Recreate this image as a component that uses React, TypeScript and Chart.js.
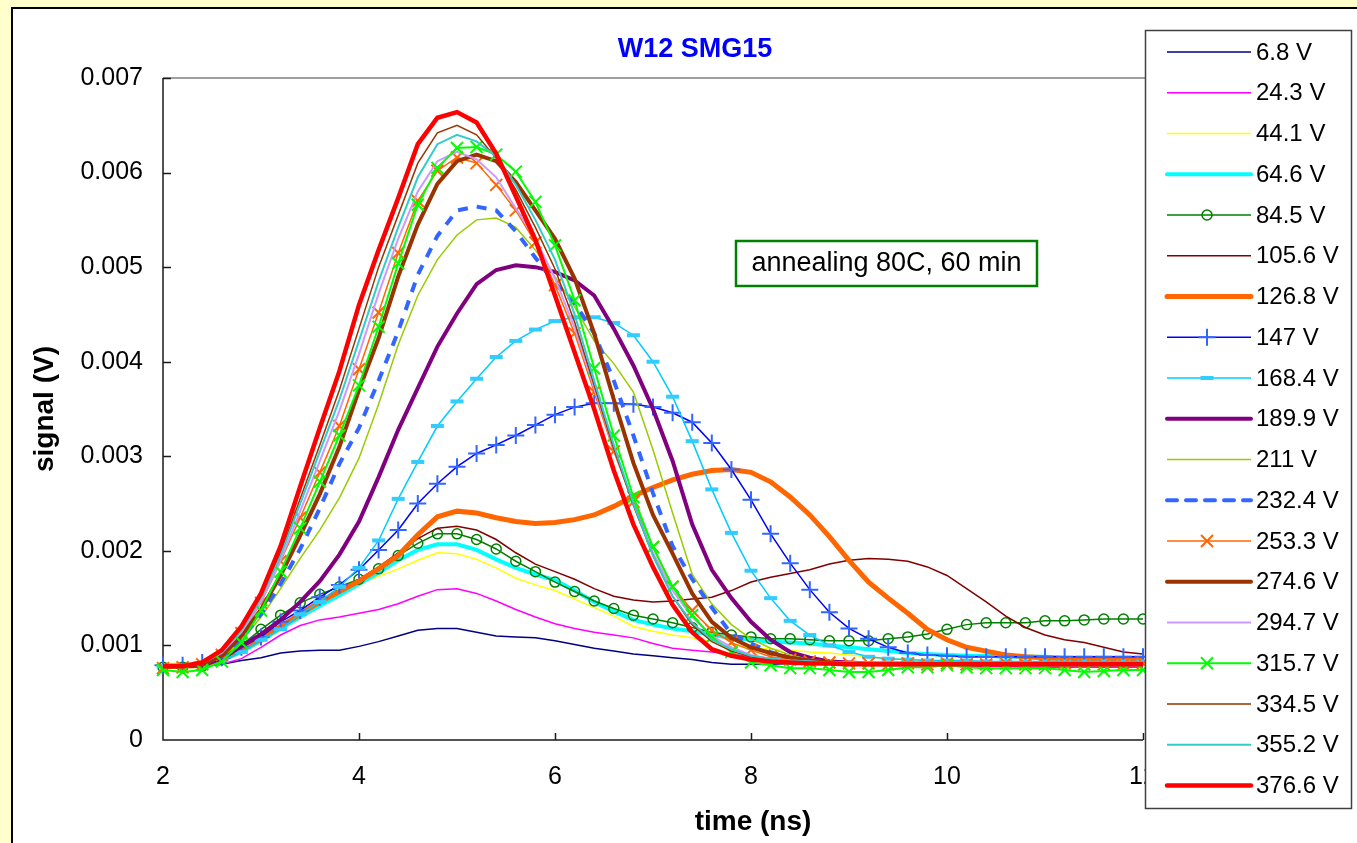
import React, { useEffect, useRef } from "react";
import { Chart, registerables } from "chart.js";

Chart.register(...registerables);

const W = 1357;
const H = 843;
const FONT = '"Liberation Sans", Arial, sans-serif';

// time axis (ns)
const times = [2.0, 2.2, 2.4, 2.6, 2.8, 3.0, 3.2, 3.4, 3.6, 3.8, 4.0, 4.2, 4.4, 4.6, 4.8, 5.0, 5.2, 5.4, 5.6, 5.8, 6.0, 6.2, 6.4, 6.6, 6.8, 7.0, 7.2, 7.4, 7.6, 7.8, 8.0, 8.2, 8.4, 8.6, 8.8, 9.0, 9.2, 9.4, 9.6, 9.8, 10.0, 10.2, 10.4, 10.6, 10.8, 11.0, 11.2, 11.4, 11.6, 11.8, 12.0];

const seriesNames = ["6.8 V", "24.3 V", "44.1 V", "64.6 V", "84.5 V", "105.6 V", "126.8 V", "147 V", "168.4 V", "189.9 V", "211 V", "232.4 V", "253.3 V", "274.6 V", "294.7 V", "315.7 V", "334.5 V", "355.2 V", "376.6 V"];

const yTicks = [0, 0.001, 0.002, 0.003, 0.004, 0.005, 0.006, 0.007];
const xTicks = [2, 4, 6, 8, 10, 12];

// signal values in mV (converted to V when plotted)
const v6_8 = [0.77,0.77,0.78,0.80,0.84,0.87,0.92,0.94,0.95,0.95, 0.99,1.04,1.10,1.16,1.18,1.18,1.14,1.10,1.09,1.08, 1.05,1.01,0.97,0.94,0.91,0.89,0.87,0.85,0.82,0.80, 0.80,0.80,0.81,0.80,0.80,0.80,0.81,0.80,0.80,0.80, 0.80,0.81,0.80,0.80,0.80,0.80,0.81,0.80,0.80,0.80, 0.80];
const v24_3 = [0.77,0.77,0.78,0.80,0.86,0.98,1.11,1.21,1.27,1.30, 1.34,1.38,1.44,1.52,1.59,1.60,1.55,1.47,1.38,1.30, 1.23,1.18,1.14,1.11,1.08,1.02,0.97,0.95,0.93,0.91, 0.88,0.85,0.83,0.82,0.81,0.80,0.80,0.79,0.79,0.79, 0.78,0.78,0.78,0.78,0.77,0.77,0.77,0.77,0.77,0.77, 0.77];
const v44_1 = [0.81,0.81,0.82,0.84,0.92,1.03,1.16,1.30,1.42,1.55, 1.66,1.73,1.81,1.90,1.98,1.97,1.91,1.82,1.71,1.64, 1.58,1.49,1.40,1.31,1.20,1.15,1.11,1.08,1.04,1.01, 0.98,0.96,0.95,0.93,0.92,0.90,0.88,0.86,0.85,0.84, 0.83,0.83,0.82,0.82,0.82,0.82,0.82,0.82,0.82,0.82, 0.82];
const v64_6 = [0.79,0.79,0.80,0.84,0.93,1.05,1.18,1.30,1.42,1.53, 1.65,1.77,1.90,2.01,2.07,2.07,2.01,1.91,1.82,1.75, 1.69,1.58,1.46,1.36,1.27,1.22,1.18,1.15,1.11,1.08, 1.06,1.04,1.03,1.02,1.00,0.98,0.96,0.94,0.92,0.91, 0.90,0.89,0.89,0.88,0.88,0.88,0.87,0.87,0.87,0.87, 0.87];
const v84_5 = [0.77,0.77,0.78,0.85,1.00,1.17,1.32,1.45,1.54,1.62, 1.70,1.81,1.95,2.08,2.18,2.18,2.12,2.02,1.89,1.78, 1.67,1.57,1.47,1.39,1.32,1.28,1.24,1.19,1.14,1.11, 1.09,1.07,1.07,1.06,1.05,1.05,1.05,1.07,1.09,1.12, 1.17,1.22,1.24,1.24,1.24,1.26,1.26,1.27,1.28,1.28, 1.28];
const v105_6 = [0.78,0.78,0.79,0.84,0.94,1.06,1.20,1.34,1.47,1.58, 1.70,1.83,1.98,2.13,2.24,2.26,2.22,2.12,1.98,1.86, 1.78,1.70,1.60,1.52,1.48,1.46,1.47,1.49,1.51,1.58, 1.67,1.72,1.76,1.80,1.86,1.90,1.92,1.91,1.89,1.83, 1.74,1.60,1.46,1.31,1.19,1.11,1.06,1.03,0.98,0.93, 0.91];
const v126_8 = [0.78,0.78,0.79,0.85,0.95,1.07,1.20,1.33,1.46,1.57, 1.68,1.81,1.95,2.17,2.36,2.42,2.40,2.35,2.31,2.29, 2.30,2.33,2.38,2.47,2.58,2.67,2.75,2.81,2.85,2.86, 2.83,2.73,2.57,2.38,2.15,1.90,1.67,1.50,1.34,1.17, 1.06,0.98,0.94,0.90,0.88,0.87,0.86,0.86,0.85,0.85, 0.85];
const v147 = [0.79,0.79,0.82,0.87,0.98,1.09,1.25,1.37,1.51,1.64, 1.80,2.01,2.22,2.50,2.71,2.89,3.03,3.12,3.22,3.33, 3.44,3.52,3.56,3.56,3.55,3.52,3.46,3.36,3.14,2.86, 2.54,2.18,1.87,1.59,1.35,1.18,1.07,0.98,0.92,0.90, 0.89,0.88,0.88,0.88,0.88,0.88,0.88,0.88,0.88,0.88, 0.88];
const v168_4 = [0.78,0.78,0.80,0.84,0.93,1.06,1.17,1.33,1.46,1.62, 1.82,2.11,2.55,2.94,3.32,3.58,3.82,4.05,4.22,4.34, 4.43,4.47,4.47,4.41,4.28,4.00,3.63,3.16,2.65,2.19, 1.79,1.50,1.26,1.11,1.00,0.93,0.88,0.86,0.85,0.84, 0.84,0.84,0.83,0.83,0.83,0.83,0.83,0.83,0.83,0.83, 0.83];
const v189_9 = [0.78,0.78,0.79,0.86,0.99,1.12,1.27,1.46,1.68,1.96, 2.31,2.78,3.28,3.72,4.16,4.51,4.82,4.97,5.02,5.00, 4.95,4.86,4.70,4.35,3.96,3.50,2.95,2.28,1.80,1.50, 1.25,1.06,0.93,0.87,0.83,0.82,0.81,0.80,0.80,0.80, 0.80,0.80,0.80,0.80,0.80,0.80,0.80,0.80,0.80,0.80, 0.80];
const v211 = [0.78,0.78,0.80,0.87,1.05,1.30,1.60,1.92,2.22,2.56, 2.98,3.55,4.18,4.70,5.08,5.34,5.50,5.52,5.42,5.18, 4.90,4.58,4.22,3.98,3.68,3.07,2.40,1.75,1.44,1.22, 1.07,0.97,0.90,0.85,0.83,0.82,0.81,0.81,0.81,0.81, 0.81,0.81,0.81,0.81,0.81,0.81,0.81,0.81,0.81,0.81, 0.81];
const v232_4 = [0.78,0.78,0.80,0.88,1.07,1.33,1.65,2.02,2.45,2.92, 3.30,3.80,4.32,4.92,5.33,5.60,5.64,5.60,5.38,5.10, 4.83,4.62,4.30,3.80,3.22,2.61,2.05,1.70,1.40,1.12, 1.02,0.93,0.87,0.84,0.82,0.81,0.81,0.81,0.81,0.81, 0.81,0.81,0.81,0.81,0.81,0.81,0.81,0.81,0.81,0.81, 0.81];
const v253_3 = [0.76,0.77,0.80,0.90,1.13,1.45,1.89,2.35,2.83,3.32, 3.92,4.52,5.15,5.70,6.02,6.16,6.10,5.87,5.60,5.26, 4.81,4.30,3.68,3.05,2.52,2.04,1.62,1.37,1.16,1.03, 0.95,0.88,0.85,0.83,0.82,0.81,0.81,0.80,0.81,0.80, 0.81,0.80,0.80,0.81,0.80,0.80,0.81,0.80,0.80,0.80, 0.81];
const v274_6 = [0.78,0.78,0.80,0.89,1.10,1.38,1.74,2.16,2.60,3.10, 3.70,4.25,4.90,5.45,5.88,6.12,6.19,6.12,5.90,5.60, 5.30,4.88,4.30,3.60,2.93,2.38,1.97,1.55,1.25,1.08, 0.98,0.92,0.87,0.84,0.82,0.81,0.80,0.80,0.80,0.80, 0.80,0.80,0.80,0.80,0.80,0.80,0.80,0.80,0.80,0.80, 0.80];
const v294_7 = [0.78,0.78,0.81,0.92,1.14,1.46,1.90,2.42,2.95,3.48, 4.08,4.72,5.30,5.80,6.12,6.22,6.14,5.95,5.62,5.30, 4.88,4.36,3.72,3.08,2.50,1.98,1.58,1.30,1.10,0.98, 0.90,0.86,0.84,0.83,0.82,0.82,0.82,0.82,0.82,0.82, 0.82,0.82,0.82,0.82,0.82,0.82,0.82,0.82,0.82,0.82, 0.82];
const v315_7 = [0.74,0.72,0.74,0.83,1.03,1.37,1.78,2.24,2.73,3.22, 3.75,4.37,5.04,5.66,6.05,6.26,6.27,6.19,6.01,5.69, 5.23,4.65,3.93,3.22,2.57,2.04,1.62,1.32,1.09,0.93, 0.82,0.79,0.76,0.76,0.74,0.72,0.72,0.74,0.77,0.77, 0.79,0.77,0.76,0.76,0.76,0.76,0.74,0.72,0.73,0.74, 0.74];
const v334_5 = [0.78,0.78,0.82,0.94,1.18,1.52,1.98,2.55,3.12,3.70, 4.35,5.00,5.55,6.10,6.42,6.50,6.40,6.15,5.82,5.42, 4.98,4.42,3.75,3.08,2.48,1.95,1.52,1.22,1.04,0.94, 0.88,0.85,0.83,0.82,0.82,0.82,0.82,0.82,0.82,0.82, 0.82,0.82,0.82,0.82,0.82,0.82,0.82,0.82,0.82,0.82, 0.82];
const v355_2 = [0.78,0.78,0.82,0.93,1.16,1.50,1.95,2.50,3.05,3.60, 4.22,4.85,5.42,5.95,6.30,6.40,6.33,6.17,5.87,5.50, 5.08,4.50,3.80,3.12,2.50,1.95,1.52,1.24,1.06,0.96, 0.89,0.86,0.84,0.83,0.82,0.82,0.82,0.82,0.82,0.82, 0.82,0.82,0.82,0.82,0.82,0.82,0.82,0.82,0.82,0.82, 0.82];
const v376_6 = [0.78,0.78,0.82,0.95,1.20,1.55,2.05,2.68,3.30,3.90, 4.60,5.18,5.73,6.30,6.58,6.64,6.53,6.20,5.75,5.29, 4.70,4.10,3.50,2.85,2.28,1.83,1.43,1.14,0.96,0.89, 0.85,0.83,0.82,0.81,0.81,0.80,0.80,0.80,0.80,0.80, 0.80,0.80,0.80,0.80,0.80,0.80,0.80,0.80,0.80,0.80, 0.80];

const seriesValues = [v6_8, v24_3, v44_1, v64_6, v84_5, v105_6, v126_8, v147, v168_4, v189_9, v211, v232_4, v253_3, v274_6, v294_7, v315_7, v334_5, v355_2, v376_6];

type Sty = { c: string; w: number; dash?: number[]; p?: string; pc?: string; pr?: number; pw?: number };
const styles: Sty[] = [
  { c: "#000080", w: 1.5 },
  { c: "#FF00FF", w: 1.5 },
  { c: "#FFFF00", w: 1.5 },
  { c: "#00FFFF", w: 4 },
  { c: "#008000", w: 1.5, p: "circle", pc: "#008000", pr: 5, pw: 1.5 },
  { c: "#800000", w: 1.5 },
  { c: "#FF6600", w: 5 },
  { c: "#0000FF", w: 1.5, p: "cross", pc: "#3366FF", pr: 8.5, pw: 2 },
  { c: "#00CCFF", w: 1.5, p: "line", pc: "#33CCFF", pr: 6.5, pw: 4 },
  { c: "#800080", w: 4 },
  { c: "#99CC00", w: 1.5 },
  { c: "#3366FF", w: 4, dash: [10, 9] },
  { c: "#FF6600", w: 1.5, p: "crossRot", pc: "#FF6600", pr: 8.5, pw: 2 },
  { c: "#993300", w: 4 },
  { c: "#CC99FF", w: 2 },
  { c: "#00FF00", w: 2, p: "crossRot", pc: "#00FF00", pr: 8.5, pw: 2 },
  { c: "#993300", w: 1.5 },
  { c: "#33CCCC", w: 2 },
  { c: "#FF0000", w: 4.5 },
];

function drawMarker(ctx: CanvasRenderingContext2D, s: Sty, x: number, y: number) {
  if (!s.p) return;
  const r = s.pr || 4;
  ctx.save();
  ctx.strokeStyle = s.pc || s.c;
  ctx.lineWidth = s.pw || 1.5;
  ctx.setLineDash([]);
  ctx.beginPath();
  if (s.p === "circle") {
    ctx.arc(x, y, r, 0, Math.PI * 2);
  } else if (s.p === "cross") {
    ctx.moveTo(x - r, y); ctx.lineTo(x + r, y);
    ctx.moveTo(x, y - r); ctx.lineTo(x, y + r);
  } else if (s.p === "crossRot") {
    const d = r * Math.SQRT1_2;
    ctx.moveTo(x - d, y - d); ctx.lineTo(x + d, y + d);
    ctx.moveTo(x + d, y - d); ctx.lineTo(x - d, y + d);
  } else if (s.p === "line") {
    ctx.moveTo(x - r, y); ctx.lineTo(x + r, y);
  }
  ctx.stroke();
  ctx.restore();
}

const decor = {
  id: "decor",
  beforeDraw(chart: any) {
    const ctx: CanvasRenderingContext2D = chart.ctx;
    ctx.save();
    ctx.fillStyle = "#FFFFCC";
    ctx.fillRect(0, 0, W, H);
    ctx.fillStyle = "#FFFFFF";
    ctx.fillRect(12, 8, W - 12, H - 8);
    ctx.fillStyle = "#000000";
    ctx.fillRect(11, 7, W - 11, 2);
    ctx.fillRect(11, 7, 2, H - 7);
    ctx.restore();
  },
  beforeDatasetsDraw(chart: any) {
    const ctx: CanvasRenderingContext2D = chart.ctx;
    const a = chart.chartArea;
    const xs = chart.scales.x;
    const ys = chart.scales.y;
    ctx.save();
    ctx.strokeStyle = "#808080";
    ctx.lineWidth = 1.5;
    ctx.beginPath();
    ctx.moveTo(a.left, a.top);
    ctx.lineTo(a.right + 2, a.top);
    ctx.stroke();
    ctx.strokeStyle = "#1a1a1a";
    ctx.lineWidth = 1.5;
    ctx.beginPath();
    ctx.moveTo(a.left, a.top);
    ctx.lineTo(a.left, a.bottom);
    ctx.lineTo(a.right, a.bottom);
    ctx.stroke();
    ctx.beginPath();
    yTicks.forEach((v) => {
      if (v === 0) return;
      const py = Math.round(ys.getPixelForValue(v)) + 0.5;
      ctx.moveTo(a.left, py);
      ctx.lineTo(a.left + 8, py);
    });
    xTicks.forEach((v) => {
      if (v === 2) return;
      const px = Math.round(xs.getPixelForValue(v)) + 0.5;
      ctx.moveTo(px, a.bottom);
      ctx.lineTo(px, a.bottom - 7);
    });
    ctx.stroke();
    ctx.restore();
  },
  afterDraw(chart: any) {
    const ctx: CanvasRenderingContext2D = chart.ctx;
    ctx.save();
    // title
    ctx.fillStyle = "#0000FF";
    ctx.font = `bold 27px ${FONT}`;
    ctx.textAlign = "center";
    ctx.textBaseline = "middle";
    ctx.fillText("W12 SMG15", 695, 50);
    // axis titles
    ctx.fillStyle = "#000000";
    ctx.font = `bold 28px ${FONT}`;
    ctx.fillText("time (ns)", 753, 822);
    ctx.save();
    ctx.translate(45, 409);
    ctx.rotate(-Math.PI / 2);
    ctx.fillText("signal (V)", 0, 0);
    ctx.restore();
    // annotation box
    ctx.fillStyle = "#FFFFFF";
    ctx.fillRect(736, 241, 301, 45);
    ctx.strokeStyle = "#008000";
    ctx.lineWidth = 2.5;
    ctx.strokeRect(736, 241, 301, 45);
    ctx.fillStyle = "#000000";
    ctx.font = `27px ${FONT}`;
    ctx.fillText("annealing 80C, 60 min", 886.5, 264);
    // legend
    const lx = 1145, ly = 30, lw = 206, lh = 778;
    ctx.fillStyle = "#FFFFFF";
    ctx.fillRect(lx, ly, lw, lh);
    ctx.strokeStyle = "#404040";
    ctx.lineWidth = 1.5;
    ctx.strokeRect(lx + 0.5, ly + 0.5, lw, lh);
    ctx.font = `24px ${FONT}`;
    ctx.textAlign = "left";
    ctx.textBaseline = "middle";
    seriesNames.forEach((name, i) => {
      const s = styles[i];
      const y = 52 + i * 40.75;
      ctx.save();
      ctx.strokeStyle = s.c;
      ctx.lineWidth = s.w;
      ctx.lineCap = s.w >= 4 ? "round" : "butt";
      ctx.setLineDash(s.dash || []);
      ctx.beginPath();
      ctx.moveTo(1167, y);
      ctx.lineTo(1251, y);
      ctx.stroke();
      ctx.restore();
      drawMarker(ctx, s, 1207, y);
      ctx.fillStyle = "#000000";
      ctx.fillText(name, 1256, y + 1);
    });
    ctx.restore();
  },
};

export default function App() {
  const ref = useRef<HTMLCanvasElement>(null);
  useEffect(() => {
    const canvas = ref.current;
    if (!canvas) return;
    const n = seriesNames.length;
    const datasets = seriesNames.map((name, i) => {
      const s = styles[i];
      const vals = seriesValues[i];
      return {
        label: name,
        data: times.map((t, k) => ({ x: t, y: vals[k] / 1000 })),
        borderColor: s.c,
        backgroundColor: s.c,
        borderWidth: s.w,
        borderDash: s.dash || [],
        fill: false,
        tension: 0,
        clip: false as any,
        order: n - i,
        pointStyle: s.p || "circle",
        pointRadius: s.p ? s.pr : 0,
        pointHoverRadius: s.p ? s.pr : 0,
        pointBorderColor: s.pc || s.c,
        pointBackgroundColor: "rgba(0,0,0,0)",
        pointBorderWidth: s.pw || 1,
      };
    });
    const chart = new Chart(canvas, {
      type: "line",
      data: { datasets },
      options: {
        animation: false,
        responsive: false,
        devicePixelRatio: 1,
        events: [],
        layout: { padding: { left: 0, top: 78, right: W - 1143, bottom: 0 } },
        plugins: {
          legend: { display: false },
          tooltip: { enabled: false },
          title: { display: false },
        },
        scales: {
          x: {
            type: "linear",
            min: 2,
            max: 12,
            grid: { display: false, drawTicks: false },
            border: { display: false },
            ticks: {
              stepSize: 2,
              autoSkip: false,
              maxRotation: 0,
              color: "#000000",
              padding: 22,
              font: { family: FONT, size: 25 },
            },
            afterFit: (s: any) => {
              s.height = H - 740;
            },
          },
          y: {
            type: "linear",
            min: 0,
            max: 0.007,
            grid: { display: false, drawTicks: false },
            border: { display: false },
            ticks: {
              stepSize: 0.001,
              color: "#000000",
              padding: 20,
              font: { family: FONT, size: 25 },
              callback: (v: any) => (Math.abs(Number(v)) < 1e-9 ? "0" : Number(v).toFixed(3)),
            },
            afterFit: (s: any) => {
              s.width = 163;
            },
          },
        },
      } as any,
      plugins: [decor],
    });
    return () => chart.destroy();
  }, []);
  return (
    <div style={{ position: "fixed", left: 0, top: 0, width: W, height: H, overflow: "hidden" }}>
      <canvas ref={ref} width={W} height={H} style={{ display: "block", width: W, height: H }} />
    </div>
  );
}
